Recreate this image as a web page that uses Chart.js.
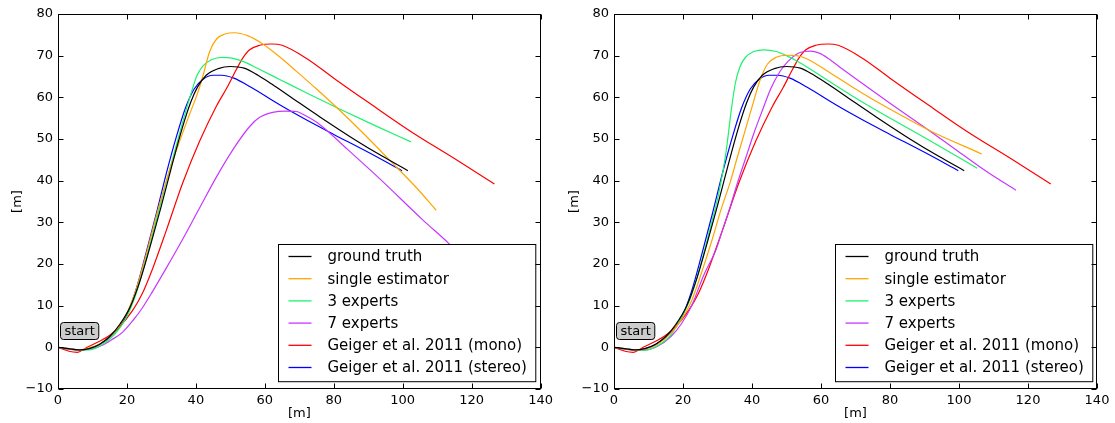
<!DOCTYPE html>
<html>
<head>
<meta charset="utf-8">
<script src="https://cdn.jsdelivr.net/npm/chart.js@4.4.0/dist/chart.umd.min.js"></script>
<style>
  html, body { margin: 0; padding: 0; background: #fff; }
  #wrap { position: relative; width: 1115px; height: 423px; }
  canvas { position: absolute; top: 0; }
  #chartLeft { left: 0; }
  #chartRight { left: 557px; }
</style>
</head>
<body>
<div id="wrap">
  <canvas id="chartLeft" width="557" height="423"></canvas>
  <canvas id="chartRight" width="558" height="423"></canvas>
</div>
<script>
// trajectories, [x, y] in metres
const seriesNames = ['ground truth', 'single estimator', '3 experts', '7 experts',
                     'Geiger et al. 2011 (mono)', 'Geiger et al. 2011 (stereo)'];
const xTicks = [0, 20, 40, 60, 80, 100, 120, 140];
const yTicks = [-10, 0, 10, 20, 30, 40, 50, 60, 70, 80];
const startLabel = 'start';
const startAt = [0, 4];

const groundTruth = [[0,0],[3,-0.3],[6,-0.6],[9,-0.3],[12,0.7],[15,2.6],[18,5.6],[21,9.8],[24,16.5],[27,25],[30,34],[33,43.5],[36,52.5],[38.5,58.8],[40.5,62.5],[43,65.3],[46.5,66.9],[50,67.4],[54,67],[58,65.3],[62,63.2],[68,59.8],[76,55.3],[86,49.9],[94,45.9],[101.5,42.4]];

const geigerMono = [[0,0],[3.2,-0.95],[5.6,-1.2],[8,-0.2],[11.9,1.4],[14.8,2.8],[17.7,4.8],[21.6,8.8],[24.5,13],[27.5,19],[31.4,28],[36.2,39.5],[41.1,49.5],[45.9,57.8],[49,62.3],[51.5,66.3],[53.5,69.3],[55.6,71.4],[58.5,72.5],[62,72.8],[65,72.5],[72,69.4],[80,64.6],[90,58.8],[102.9,51.5],[115,45.3],[126.6,39.2]];

const geigerStereo = [[0,0],[3,-0.4],[6,-0.7],[9,-0.3],[12.5,0.9],[16.5,3.6],[19.6,7.2],[22.5,13.5],[25.5,22.5],[28.5,32],[31.5,42],[34.5,51],[37,57.5],[39.5,62],[42,64.3],[45,65.3],[47.5,65.3],[51,64.6],[56,62.4],[64.3,58.2],[72,54.6],[80,51.1],[90,46.8],[99.8,42.4]];

// left panel
const singleLeft = [[0,0],[3,-0.3],[6,-0.6],[9,-0.2],[12.5,1],[16.5,3.8],[19.6,7.6],[22.5,13.5],[25.5,22],[28.5,31.5],[32.4,42.6],[35.3,49.5],[38.2,56],[40.5,61],[42,65],[44,71],[46,74],[48.5,75.2],[51.2,75.5],[55,74.8],[59.4,72.8],[64,69.9],[69.1,66.3],[75,62],[81.7,56.9],[88.4,51.5],[98,43.4],[104,38.3],[109.7,32.9]];

const threeLeft = [[0,0],[3,-0.3],[6,-0.6],[9,-0.6],[12.5,0.5],[16.5,3.2],[19.6,6.8],[22.5,12.5],[25.5,21],[28.5,30.5],[31.5,40],[34.5,49],[37,56.5],[38.8,61.5],[40.2,65],[42,67.5],[44.5,69],[47.5,69.6],[50.5,69.4],[54,68.5],[58,66.9],[64.3,64.3],[72,61.1],[81.7,57.2],[92,53.2],[102.4,49.3]];

const sevenLeft = [[0,0],[3,-0.3],[6,-0.6],[9,-0.5],[12.5,0.4],[15.5,1.8],[18.7,3.6],[21.8,6.5],[24.5,9.5],[27.5,13.5],[31.4,19],[36.2,26],[41.1,33.5],[45.9,40.8],[50.7,47.4],[55.6,53],[58.5,55.2],[62.3,56.4],[66,56.7],[69.1,56.6],[72,55.5],[75.9,53.5],[84,47.5],[93.3,40.5],[105.8,30.6],[113.4,24.9],[118,21]];

// right panel
const singleRight = [[0,0],[3,-0.3],[6,-0.6],[9,-0.4],[12.5,0.7],[16.5,3.4],[19.5,6.6],[22.5,11.2],[26,19.5],[28.5,26],[31,33],[33.6,39.4],[35.8,45.8],[38,52],[40.6,59.4],[42.5,64.5],[44.5,68],[47,69.6],[50.3,70.1],[53,70],[56,69.2],[62.6,65.9],[70,62],[77.1,58.5],[91.6,52],[106.6,46.4]];

const threeRight = [[0,0],[3,-0.3],[6,-0.6],[9,-0.7],[12.5,0.3],[16.5,3],[19.4,7],[22,11.5],[25,19.5],[28,29],[30.5,37.5],[32.5,47],[34,57],[35.2,63.5],[36.5,67.3],[38,69.5],[40.5,71],[43.5,71.4],[47,71],[50,70],[53.9,68.3],[60,65.1],[72.3,58.7],[91.6,49.6],[105.3,43]];

const sevenRight = [[0,0],[3,-0.3],[6,-0.6],[9,-0.6],[12.5,0.2],[16.5,2.6],[19.5,5.6],[22.5,10],[26.1,17.5],[29.6,23.5],[31,27],[33.6,33.5],[35.8,39.5],[38.2,45.5],[40.6,51.5],[43.3,57.5],[45.4,62],[48.1,66.2],[50.3,68.5],[53,70.4],[55.1,71],[57,71.1],[59.5,70.6],[62,69.4],[66,66.9],[72,63.3],[80,58.6],[90,52.8],[100,46.9],[108,42.2],[116.5,37.7]];

const colours = ['#000000', '#ffa500', '#1ef26e', '#c837ff', '#ff0000', '#0000ff'];
const FONT = 'DejaVu Sans';

function toXY(arr) { return arr.map(p => ({x: p[0], y: p[1]})); }
function minusSign(v) { return v < 0 ? '\u2212' + Math.abs(v) : String(v); }

// inward ticks on all four spines + the frame
const frameTicks = {
  id: 'frameTicks',
  afterDatasetsDraw(chart) {
    const {ctx, chartArea: a, scales: {x, y}} = chart;
    const L = Math.round(a.left) + 0.5, R = Math.round(a.right) - 0.5;
    const T = Math.round(a.top) + 0.5, B = Math.round(a.bottom) - 0.5;
    ctx.save();
    ctx.strokeStyle = '#000';
    ctx.lineWidth = 1;
    ctx.beginPath();
    xTicks.forEach(v => {
      const px = Math.round(x.getPixelForValue(v)) + 0.5;
      ctx.moveTo(px, B); ctx.lineTo(px, B - 5);
      ctx.moveTo(px, T); ctx.lineTo(px, T + 5);
    });
    yTicks.forEach(v => {
      const py = Math.round(y.getPixelForValue(v)) + 0.5;
      ctx.moveTo(L, py); ctx.lineTo(L + 5, py);
      ctx.moveTo(R, py); ctx.lineTo(R - 5, py);
    });
    ctx.stroke();
    ctx.strokeRect(L, T, R - L, B - T);
    ctx.restore();
  }
};

// legend box in the lower right corner, drawn over the lines
const boxLegend = {
  id: 'boxLegend',
  afterDatasetsDraw(chart) {
    const {ctx, chartArea: a} = chart;
    ctx.save();
    ctx.font = '15px "' + FONT + '"';
    const sets = chart.data.datasets;
    const textW = Math.max(...sets.map(d => ctx.measureText(d.label).width));
    const rowH = 22.2;
    const w = 10 + 23 + 16 + textW + 9;
    const h = sets.length * rowH + 4;
    const right = a.right - 5, bottom = a.bottom - 7.5;
    const left = Math.round(right - w) + 0.5, top = Math.round(bottom - h) + 0.5;
    ctx.fillStyle = '#fff';
    ctx.fillRect(left, top, w, h);
    ctx.strokeStyle = '#000';
    ctx.lineWidth = 1;
    ctx.strokeRect(left, top, w, h);
    ctx.textBaseline = 'middle';
    sets.forEach((d, i) => {
      const cy = top + 12 + i * rowH;
      ctx.strokeStyle = d.borderColor;
      ctx.lineWidth = 1.3;
      ctx.beginPath();
      ctx.moveTo(left + 10, cy);
      ctx.lineTo(left + 33, cy);
      ctx.stroke();
      ctx.fillStyle = '#000';
      ctx.fillText(d.label, left + 49, cy + 1);
    });
    ctx.restore();
  }
};

// rounded grey "start" tag
const startTag = {
  id: 'startTag',
  afterDatasetsDraw(chart) {
    const {ctx, scales: {x, y}} = chart;
    const px = x.getPixelForValue(startAt[0]) + 1.5;
    const py = y.getPixelForValue(startAt[1]);
    ctx.save();
    ctx.font = '13px "' + FONT + '"';
    const tw = ctx.measureText(startLabel).width;
    const w = tw + 8, h = 17;
    ctx.beginPath();
    ctx.roundRect(Math.round(px) + 0.5, Math.round(py - h / 2) + 0.5, w, h, 3);
    ctx.fillStyle = '#cccccc';
    ctx.fill();
    ctx.strokeStyle = '#000';
    ctx.lineWidth = 1;
    ctx.stroke();
    ctx.fillStyle = '#000';
    ctx.textBaseline = 'middle';
    ctx.fillText(startLabel, Math.round(px) + 4.5, py + 1);
    ctx.restore();
  }
};

function makeChart(id, series, yAxisWidth, padRight) {
  const datasets = series.map((s, i) => ({
    label: seriesNames[i],
    data: toXY(s),
    borderColor: colours[i],
    backgroundColor: colours[i],
    borderWidth: 1.2,
    pointRadius: 0,
    showLine: true,
    cubicInterpolationMode: 'monotone'
  }));
  return new Chart(document.getElementById(id), {
    type: 'scatter',
    data: { datasets },
    options: {
      responsive: false,
      animation: false,
      layout: { padding: { top: 14, right: padRight, left: 0, bottom: 0 } },
      plugins: { legend: { display: false }, tooltip: { enabled: false } },
      scales: {
        x: {
          type: 'linear', min: 0, max: 140,
          grid: { display: false, drawTicks: false },
          border: { display: false },
          ticks: { stepSize: 20, padding: 4, color: '#000', font: { family: FONT, size: 13 } },
          title: { display: true, text: '[m]', color: '#000', padding: { top: 0, bottom: 2 },
                   font: { family: FONT, size: 13 } },
          afterFit: s => { s.height = 34; }
        },
        y: {
          type: 'linear', min: -10, max: 80,
          grid: { display: false, drawTicks: false },
          border: { display: false },
          ticks: { stepSize: 10, padding: 5, color: '#000', callback: minusSign,
                   font: { family: FONT, size: 13 } },
          title: { display: true, text: '[m]', color: '#000', padding: { top: 10, bottom: 0 },
                   font: { family: FONT, size: 13 } },
          afterFit: s => { s.width = yAxisWidth; }
        }
      }
    },
    plugins: [startTag, boxLegend, frameTicks]
  });
}

makeChart('chartLeft', [groundTruth, singleLeft, threeLeft, sevenLeft, geigerMono, geigerStereo], 58, 16);
makeChart('chartRight', [groundTruth, singleRight, threeRight, sevenRight, geigerMono, geigerStereo], 57, 18);
</script>
</body>
</html>
